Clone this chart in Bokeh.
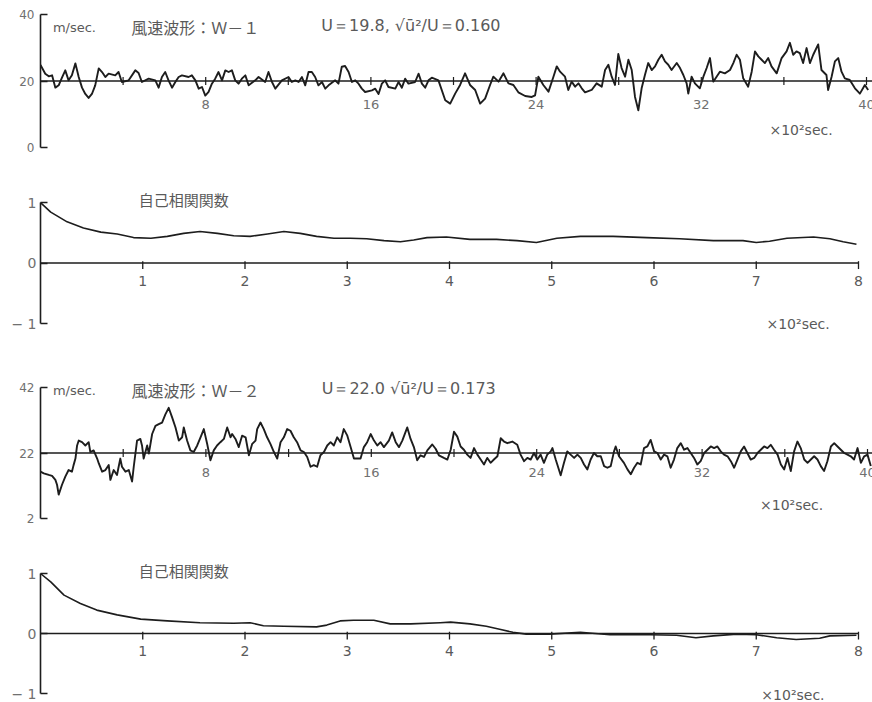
from bokeh.plotting import figure
from bokeh.layouts import column
from bokeh.models import Range1d, LinearAxis, FixedTicker, Label, Span, ColumnDataSource
from bokeh.core.properties import value
from bokeh.embed import file_html
from bokeh.resources import INLINE

# ---------------- wind-speed record W-1 (time in 10^2 s, speed in m/s) ----------------
W1_TIME = [0.00, 0.23, 0.40, 0.56, 0.72, 0.88, 1.04, 1.20, 1.36, 1.52, 1.69, 1.85, 2.01, 2.17, 2.33,
           2.49, 2.65, 2.82, 2.98, 3.14, 3.30, 3.62, 3.78, 3.94, 4.27, 4.59, 4.75, 4.91, 5.24, 5.56,
           5.72, 5.88, 6.04, 6.20, 6.37, 6.53, 6.69, 6.85, 7.17, 7.33, 7.50, 7.66, 7.82, 7.98, 8.14,
           8.30, 8.46, 8.62, 8.79, 8.95, 9.11, 9.27, 9.43, 9.59, 9.75, 9.92, 10.08, 10.40, 10.56, 10.88,
           11.04, 11.21, 11.37, 11.69, 12.01, 12.17, 12.34, 12.50, 12.66, 12.82, 12.98, 13.14, 13.30,
           13.46, 13.63, 13.79, 13.95, 14.27, 14.43, 14.59, 14.75, 14.92, 15.08, 15.24, 15.40, 15.56,
           15.72, 16.05, 16.21, 16.37, 16.53, 16.69, 16.85, 17.18, 17.34, 17.50, 17.66, 17.82, 18.14,
           18.31, 18.47, 18.63, 18.79, 18.95, 19.27,
           19.60, 19.84, 20.08, 20.32, 20.56, 20.80, 21.05, 21.29, 21.53, 21.77, 21.93, 22.18, 22.42,
           22.66, 22.90, 23.14, 23.47, 23.79, 23.95, 24.11, 24.35, 24.60, 24.84, 25.00, 25.16, 25.40,
           25.56, 25.72, 25.89, 26.05, 26.21, 26.37, 26.69, 26.93, 27.18, 27.34, 27.50, 27.66, 27.82,
           27.98, 28.14, 28.31, 28.47, 28.63, 28.79, 28.95, 29.11, 29.27, 29.43, 29.60, 29.76, 29.92,
           30.08, 30.24, 30.40, 30.56, 30.81, 30.97, 31.13, 31.29, 31.37, 31.53, 31.69, 31.93, 32.10,
           32.26, 32.42, 32.58, 32.74, 32.90, 33.14, 33.39, 33.55, 33.71, 33.87, 34.03, 34.27, 34.44,
           34.60, 34.76, 34.92, 35.08, 35.24, 35.40, 35.65, 35.89, 36.13, 36.29, 36.45, 36.61, 36.77,
           36.93, 37.10, 37.26, 37.42, 37.66, 37.82, 38.06, 38.14, 38.31, 38.47, 38.63, 38.79, 38.95,
           39.19, 39.44, 39.68, 39.92, 40.08]
W1_SPEED = [24.8, 22.2, 21.4, 21.7, 18.0, 18.7, 21.0, 23.2, 20.2, 21.7, 25.3, 21.2, 18.0, 16.1, 14.9,
            16.1, 18.7, 23.8, 22.7, 21.2, 22.2, 21.7, 22.7, 19.7, 20.2, 23.2, 22.4, 19.7, 20.7, 20.2,
            18.0, 21.2, 22.7, 20.2, 18.0, 19.7, 21.2, 21.7, 21.2, 21.7, 20.2, 17.7, 18.2, 15.6, 16.7,
            19.2, 20.7, 22.7, 20.2, 23.2, 22.7, 23.2, 20.2, 19.2, 20.7, 21.7, 18.7, 20.2, 21.2, 19.7,
            22.7, 19.7, 17.7, 20.2, 21.2, 19.7, 20.2, 19.7, 21.2, 18.7, 22.7, 22.7, 21.2,
            18.7, 19.7, 17.7, 18.7, 20.2, 19.2, 24.3, 24.5, 22.7, 19.7, 20.2, 19.2, 17.7,
            16.7, 17.2, 17.7, 16.1, 19.2, 20.2, 18.2, 17.7, 19.7, 18.0, 20.7, 19.2, 19.7,
            22.2, 19.2, 18.0, 20.2, 21.0, 20.2,
            14.2, 13.2, 16.2, 18.8, 22.3, 18.8, 17.3, 13.2, 14.7, 18.8, 21.3, 19.8, 22.3,
            19.3, 18.8, 16.6, 15.5, 15.2, 15.7, 21.3, 18.8, 16.8, 21.3, 24.4, 22.8, 21.3,
            17.3, 19.8, 18.3, 19.3, 17.8, 16.6, 17.3, 19.3, 18.3, 23.3, 24.9, 21.3, 18.8,
            28.1, 23.9, 21.3, 26.4, 23.3, 15.2, 11.2, 17.8, 21.8, 25.4, 23.3, 24.4, 26.4,
            27.9, 25.9, 24.9, 23.3, 25.4, 23.9, 21.8, 19.3, 16.2, 21.3, 19.3, 17.8, 21.3,
            23.9, 26.9, 19.8, 21.3, 22.8, 22.3, 23.3, 25.4, 27.9, 26.4, 20.8, 18.3, 22.8,
            28.9, 27.4, 26.4, 25.4, 26.9, 24.4, 22.3, 26.9, 28.9, 31.5, 27.9, 28.9, 28.4,
            25.4, 29.9, 25.4, 27.9, 31.0, 23.3, 21.8, 17.3, 21.3, 25.9, 26.9, 22.8, 20.8,
            20.3, 17.8, 16.2, 18.8, 17.3]

# ---------------- wind-speed record W-2 ----------------
W2_TIME = [0.00, 0.16, 0.40, 0.56, 0.72, 0.80, 0.88, 1.04, 1.20, 1.36, 1.52, 1.60, 1.69, 1.77, 1.85,
           2.01, 2.17, 2.33, 2.41, 2.57, 2.74, 2.82, 2.98, 3.14, 3.30, 3.38, 3.54, 3.70, 3.78, 3.86,
           3.94, 4.11, 4.27, 4.43, 4.51, 4.67, 4.83, 4.91, 4.99, 5.16, 5.24, 5.40, 5.56, 5.72, 5.88,
           6.04, 6.20, 6.37, 6.53, 6.69, 6.85, 6.93, 7.09, 7.25, 7.41, 7.58, 7.74, 7.90, 8.06, 8.22,
           8.38, 8.54, 8.70, 8.87, 9.03, 9.19, 9.27, 9.43, 9.59, 9.75, 9.92, 10.08, 10.24, 10.40, 10.48,
           10.64, 10.80, 10.96, 11.12, 11.29, 11.45, 11.61, 11.77, 11.93, 12.09, 12.25, 12.41, 12.58,
           12.74, 12.90, 13.06, 13.22, 13.38, 13.54, 13.71, 13.87, 14.03, 14.19, 14.35, 14.51, 14.67,
           14.84, 15.00, 15.16, 15.32, 15.48, 15.64, 15.80, 15.97, 16.13, 16.29, 16.45, 16.61, 16.85,
           17.01, 17.18, 17.34, 17.50, 17.74, 17.90, 18.06, 18.22, 18.38, 18.55, 18.71, 18.95, 19.11,
           19.27,
           19.51, 19.68, 19.84, 20.00, 20.16, 20.32, 20.48, 20.64, 20.80, 20.97, 21.13, 21.29, 21.45,
           21.61, 21.77, 21.93, 22.10, 22.26, 22.42, 22.58, 22.82, 23.06, 23.22, 23.39, 23.55, 23.71,
           23.87, 24.03, 24.19, 24.35, 24.51, 24.68, 24.76, 24.92, 25.16, 25.32, 25.48, 25.64, 25.81,
           25.97, 26.13, 26.29, 26.45, 26.61, 26.77, 26.93, 27.10, 27.26, 27.42, 27.58, 27.74, 27.82,
           27.98, 28.22, 28.39, 28.55, 28.71, 28.87, 29.03, 29.19, 29.35, 29.51, 29.68, 29.84, 30.00,
           30.16, 30.32, 30.48, 30.64, 30.80, 30.97, 31.13, 31.29, 31.45, 31.61, 31.77, 31.93, 32.10,
           32.26, 32.42, 32.58, 32.74, 32.90, 33.06, 33.23, 33.39, 33.55, 33.71, 33.87, 34.03, 34.19,
           34.35, 34.52, 34.68, 34.84, 35.00, 35.16, 35.32, 35.48, 35.65, 35.81, 35.97, 36.13, 36.29,
           36.45, 36.61, 36.77, 36.94, 37.10, 37.26, 37.42, 37.58, 37.74, 37.90, 38.06, 38.23, 38.39,
           38.55, 38.71, 38.87, 39.03, 39.19, 39.35, 39.52, 39.68, 39.84, 40.00, 40.16]
W2_SPEED = [16.3, 15.8, 15.3, 15.0, 13.8, 12.3, 9.3, 12.3, 14.8, 16.8, 16.3, 18.3, 20.3, 24.3, 25.8,
            25.3, 24.3, 25.3, 22.3, 22.8, 20.3, 18.8, 16.3, 16.8, 18.3, 13.8, 16.8, 15.3, 17.8, 20.3,
            17.8, 16.3, 16.8, 13.3, 17.8, 25.8, 26.3, 24.3, 20.3, 24.3, 21.8, 27.8, 30.3, 30.8, 31.3,
            33.8, 35.8, 32.8, 29.8, 25.8, 26.8, 29.8, 25.8, 22.8, 22.3, 24.3, 26.8, 29.3, 24.8, 19.8,
            22.8, 24.3, 25.3, 26.3, 29.8, 26.8, 27.8, 26.3, 23.8, 27.3, 26.8, 21.3, 24.8, 25.8, 29.3,
            31.3, 29.3, 26.8, 24.8, 22.3, 20.3, 25.3, 26.8, 29.3, 28.8, 26.8, 25.3, 22.8,
            22.3, 20.8, 17.8, 18.3, 17.8, 21.3, 22.3, 24.3, 25.3, 24.3, 26.8, 25.3, 29.3,
            27.3, 23.8, 20.3, 20.3, 20.3, 23.8, 25.3, 27.8, 25.8, 24.3, 25.3, 23.8, 25.8,
            28.3, 25.3, 23.8, 25.8, 29.8, 26.3, 23.8, 19.8, 21.3, 20.8, 22.8, 24.6, 23.3,
            21.3,
            20.5, 20.0, 23.0, 28.5, 27.0, 24.0, 23.0, 21.5, 20.5, 23.5, 21.5, 20.0, 18.5,
            20.5, 19.0, 20.0, 21.0, 26.5, 25.5, 25.0, 25.5, 24.5, 21.5, 19.5, 20.5, 20.0,
            22.0, 20.0, 21.5, 19.0, 21.5, 22.5, 23.5, 20.0, 15.2, 19.0, 22.5, 21.5, 20.5,
            21.5, 20.5, 18.5, 17.0, 20.0, 22.0, 21.0, 21.0, 18.0, 17.5, 18.0, 22.5, 24.0,
            21.0, 19.0, 17.0, 15.5, 17.5, 19.0, 18.5, 23.5, 24.0, 26.0, 22.5, 22.0, 20.0,
            21.5, 21.0, 17.5, 20.0, 23.5, 25.0, 23.0, 23.5, 22.0, 20.5, 18.5, 19.5, 22.0,
            23.0, 24.0, 23.5, 24.0, 22.5, 21.5, 21.0, 19.5, 17.5, 20.0, 22.5, 24.0, 22.0,
            20.0, 20.5, 22.0, 23.0, 24.0, 23.5, 24.5, 23.0, 21.5, 18.5, 17.0, 20.5, 16.5,
            22.5, 25.5, 23.5, 20.0, 19.0, 20.0, 21.0, 20.0, 18.0, 16.5, 19.5, 24.0, 25.0,
            24.0, 23.0, 22.0, 21.5, 21.0, 20.0, 23.5, 19.0, 21.0, 21.5, 18.0]

# ---------------- autocorrelation functions (lag in 10^2 s) ----------------
ACF1_LAG = [0.00, 0.10, 0.26, 0.42, 0.59, 0.75, 0.91, 1.08, 1.24, 1.40, 1.56, 1.73, 1.89, 2.05, 2.22,
            2.38, 2.54, 2.70, 2.87, 3.03, 3.19, 3.36, 3.52, 3.65, 3.78, 3.97, 4.20, 4.46, 4.66, 4.85,
            5.05, 5.28, 5.60, 5.93, 6.25, 6.58, 6.87, 7.00, 7.13, 7.30, 7.56, 7.72, 7.85, 7.98]
ACF1_R = [1.00, 0.84, 0.68, 0.58, 0.51, 0.48, 0.42, 0.41, 0.44, 0.49, 0.52, 0.49, 0.45, 0.44, 0.48,
          0.52, 0.49, 0.44, 0.41, 0.41, 0.40, 0.37, 0.35, 0.38, 0.42, 0.43, 0.39, 0.39, 0.37, 0.34,
          0.41, 0.44, 0.44, 0.42, 0.40, 0.37, 0.37, 0.34, 0.36, 0.41, 0.43, 0.40, 0.35, 0.31]
ACF2_LAG = [0.00, 0.10, 0.23, 0.39, 0.55, 0.75, 0.98, 1.24, 1.56, 1.89, 2.05, 2.18, 2.38, 2.70, 2.80,
            2.93, 3.06, 3.26, 3.42, 3.62, 3.91, 4.01, 4.20, 4.36, 4.49, 4.62, 4.75, 4.98, 5.28, 5.57,
            5.96, 6.22, 6.41, 6.58, 6.81, 7.00, 7.20, 7.39, 7.62, 7.72, 7.98]
ACF2_R = [1.00, 0.86, 0.64, 0.50, 0.39, 0.31, 0.24, 0.21, 0.18, 0.17, 0.18, 0.13, 0.12, 0.11, 0.14,
          0.21, 0.22, 0.22, 0.16, 0.16, 0.18, 0.19, 0.16, 0.12, 0.07, 0.02, -0.01, -0.01, 0.02, -0.02,
          -0.02, -0.03, -0.07, -0.04, -0.01, -0.02, -0.07, -0.10, -0.08, -0.04, -0.03]

# ---------------- ticks and labels ----------------
TIME_TICKS = [4, 8, 12, 16, 20, 24, 28, 32, 36, 40]
TIME_LABELS = ["", "8", "", "16", "", "24", "", "32", "", "40"]
LAG_TICKS = [1, 2, 3, 4, 5, 6, 7, 8]
W1_YTICKS = [0, 20, 40]
W2_YTICKS = [2, 22, 42]
ACF_YTICKS = [-1, 0, 1]

INK = "#1d1d1d"
GREY = "#707070"
TEXT = "#5a5a5a"
SANS = "DejaVu Sans"
CJK = "Noto Sans CJK JP"


def padded_range(lo, hi, axis_px, pad_top, pad_bottom):
    """Data range for a frame that spans the whole figure height, so that the
    axis [lo, hi] occupies axis_px pixels with the given padding around it."""
    per_px = (hi - lo) / axis_px
    return Range1d(lo - pad_bottom * per_px, hi + pad_top * per_px)


def make_fig(height, left, xr, yr):
    p = figure(width=872, height=height, x_range=xr, y_range=yr,
               x_axis_type=None, y_axis_type=None, toolbar_location=None,
               output_backend="svg", min_border_left=left, min_border_right=0,
               min_border_top=0, min_border_bottom=0)
    p.outline_line_color = None
    p.background_fill_color = "white"
    p.border_fill_color = "white"
    return p


def add_yaxis(p, ticks, size, overrides=None, standoff=6):
    ax = LinearAxis(ticker=FixedTicker(ticks=ticks), bounds=(ticks[0], ticks[-1]),
                    major_tick_in=7, major_tick_out=0,
                    minor_tick_line_color=None, axis_line_color=INK, axis_line_width=1.6,
                    major_tick_line_color=INK, major_tick_line_width=1.6,
                    major_label_standoff=standoff, major_label_text_font=SANS,
                    major_label_text_font_size=size, major_label_text_color=GREY)
    if overrides:
        ax.major_label_overrides = overrides
    p.add_layout(ax, "left")


def note(p, x, y, text, font=SANS, size="13px", color=TEXT):
    p.add_layout(Label(x=x, y=y, text=text, text_font=font, text_font_size=size,
                       text_color=color, text_baseline="middle", text_align="left"))


def wave_panel(t, u, yticks, height, axis_px, pad_top, pad_bottom, left, xend, drop,
               name, stats, ty, unit_xy):
    lo, ref, hi = yticks
    p = make_fig(height, left, Range1d(0, xend), padded_range(lo, hi, axis_px, pad_top, pad_bottom))
    add_yaxis(p, yticks, "12px")
    p.add_layout(Span(location=ref, dimension="width", line_color=INK, line_width=1.3))
    src = ColumnDataSource(dict(x=TIME_TICKS, lab=TIME_LABELS))
    p.segment(x0="x", x1="x", y0=ref - 1.2, y1=ref + 1.2, source=src,
              line_color=INK, line_width=1.2)
    p.text(x="x", y=ref - drop, text="lab", source=src, text_align="center",
           text_baseline="middle", text_font=value(SANS), text_font_size="13px",
           text_color=GREY)
    p.line(t, u, line_color=INK, line_width=1.9, line_join="round")
    note(p, 0.6, ty, "m/sec.", size="13px")
    note(p, 4.4, ty, name, font=CJK, size="16px")
    note(p, 13.6, ty + 0.6, stats, size="16px")
    note(p, unit_xy[0], unit_xy[1], "×10²sec.", size="14px")
    return p


def acf_panel(lag, r, height, axis_px, pad_top, pad_bottom, left, unit_xy):
    xr = Range1d(0, 832 / 102.25)
    p = make_fig(height, left, xr, padded_range(-1, 1, axis_px, pad_top, pad_bottom))
    add_yaxis(p, ACF_YTICKS, "14px", overrides={-1: "− 1"}, standoff=4)
    p.line([0, LAG_TICKS[-1]], [0, 0], line_color=INK, line_width=1.4)
    src = ColumnDataSource(dict(x=LAG_TICKS, lab=[str(v) for v in LAG_TICKS]))
    p.segment(x0="x", x1="x", y0=-0.1, y1=0.03, source=src, line_color=INK, line_width=1.3)
    p.text(x="x", y=-0.29, text="lab", source=src, text_align="center",
           text_baseline="middle", text_font=value(SANS), text_font_size="14px",
           text_color=TEXT)
    p.line(lag, r, line_color=INK, line_width=1.6, line_join="round")
    note(p, 0.96, 1.05, "自己相関関数", font=CJK, size="15px")
    note(p, unit_xy[0], unit_xy[1], "×10²sec.", size="14px")
    return p


p1 = wave_panel(W1_TIME, W1_SPEED, W1_YTICKS, height=167, axis_px=133, pad_top=14, pad_bottom=20,
                left=39, xend=833 / 20.675, drop=7.2, name="風速波形：Ｗ－１",
                stats="U＝19.8,  √ū²/U＝0.160", ty=36.2, unit_xy=(35.3, 5.4))
p2 = acf_panel(ACF1_LAG, ACF1_R, height=186, axis_px=121, pad_top=35, pad_bottom=30,
               left=40, unit_xy=(7.1, -1.0))
p3 = wave_panel(W2_TIME, W2_SPEED, W2_YTICKS, height=185, axis_px=131, pad_top=34, pad_bottom=20,
                left=40, xend=832 / 20.675, drop=6.0, name="風速波形：Ｗ－２",
                stats="U＝22.0   √ū²/U＝0.173", ty=41.2, unit_xy=(34.8, 6.0))
p4 = acf_panel(ACF2_LAG, ACF2_R, height=164, axis_px=120, pad_top=35, pad_bottom=9,
               left=40, unit_xy=(7.05, -1.03))

layout = column(p1, p2, p3, p4, spacing=0)
open("out.html", "w").write(file_html(layout, INLINE))
